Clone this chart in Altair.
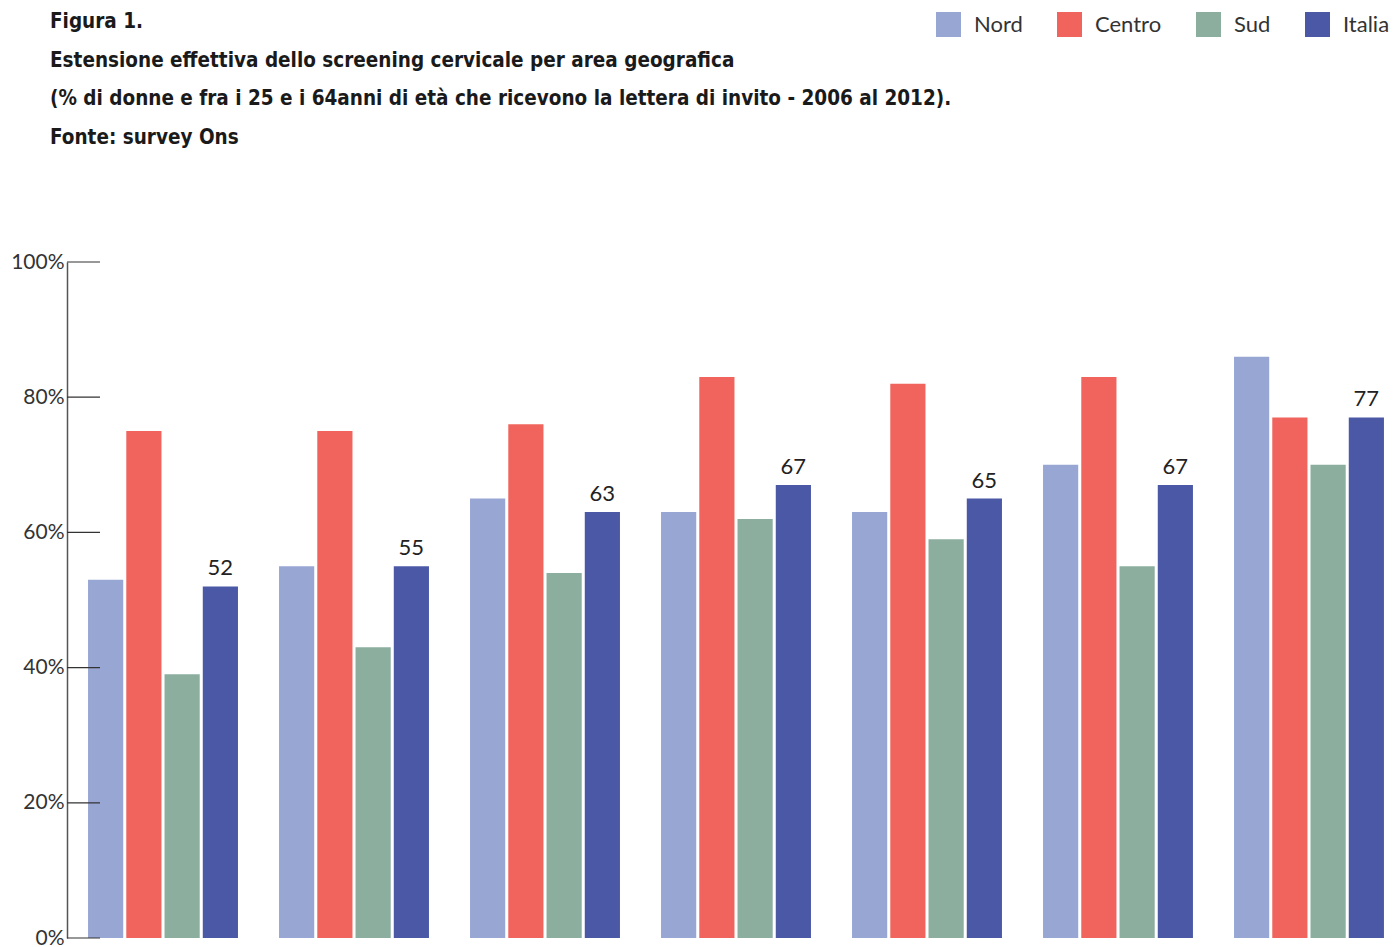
import altair as alt
import pandas as pd

# Survey years and geographic areas
years = ["2006", "2007", "2008", "2009", "2010", "2011", "2012"]
areas = ["Nord", "Centro", "Sud", "Italia"]

# % of women aged 25-64 receiving the invitation letter
nord = [53, 55, 65, 63, 63, 70, 86]
centro = [75, 75, 76, 83, 82, 83, 77]
sud = [39, 43, 54, 62, 59, 55, 70]
italia = [52, 55, 63, 67, 65, 67, 77]

colors = ["#98A6D4", "#F0645D", "#8CAE9F", "#4B58A6"]
y_ticks = [0, 20, 40, 60, 80, 100]

series = {"Nord": nord, "Centro": centro, "Sud": sud, "Italia": italia}
rows = []
for area in areas:
    for yr, v in zip(years, series[area]):
        rows.append({"anno": yr, "area": area, "valore": v})
df = pd.DataFrame(rows)
ticks_df = pd.DataFrame({"t": y_ticks})

FONT = "Lato"
TITLE_FONT = "DejaVu Sans Condensed"

x_enc = alt.X(
    "anno:N",
    sort=years,
    axis=None,
    scale=alt.Scale(paddingInner=0.215, paddingOuter=0.0866, align=0.636),
)
xoff_enc = alt.XOffset(
    "area:N",
    sort=areas,
    scale=alt.Scale(domain=areas, paddingInner=0.08, paddingOuter=0),
)
y_scale = alt.Scale(domain=[0, 100], nice=False)

bars = alt.Chart(df).mark_bar(cornerRadius=0).encode(
    x=x_enc,
    xOffset=xoff_enc,
    y=alt.Y(
        "valore:Q",
        scale=y_scale,
        axis=alt.Axis(
            values=y_ticks,
            labelExpr="datum.value + '%'",
            ticks=False,
            grid=False,
            title=None,
            domainColor="#555555",
            domainWidth=1.5,
            labelFont=FONT,
            labelFontSize=21,
            labelColor="#333333",
            labelPadding=3,
        ),
    ),
    color=alt.Color(
        "area:N",
        sort=areas,
        scale=alt.Scale(domain=areas, range=colors),
        legend=alt.Legend(
            orient="none",
            legendX=869,
            legendY=-250,
            direction="horizontal",
            title=None,
            symbolType="square",
            symbolSize=625,
            symbolStrokeWidth=0,
            symbolOpacity=1,
            labelFont=FONT,
            labelFontSize=22,
            labelColor="#333333",
            labelOffset=13,
            columnPadding=34,
        ),
    ),
)

labels = alt.Chart(df).transform_filter(
    alt.datum.area == "Italia"
).mark_text(
    font=FONT, fontSize=22, color="#222222", baseline="alphabetic", dy=-11
).encode(
    x=x_enc,
    xOffset=xoff_enc,
    y=alt.Y("valore:Q", scale=y_scale),
    text=alt.Text("valore:Q"),
)

# Tick marks drawn inward from the y axis
tick_rules = alt.Chart(ticks_df).mark_rule(color="#333333", strokeWidth=1.2).encode(
    y=alt.Y("t:Q", scale=y_scale),
    x=alt.value(0),
    x2=alt.value(33),
)

chart = alt.layer(bars, labels, tick_rules).properties(
    width=1329,
    height=676,
    autosize=alt.AutoSizeParams(type="none"),
    padding={"left": 67, "top": 262, "right": 0, "bottom": 9},
    title=alt.TitleParams(
        text=[
            "Figura 1.",
            "Estensione effettiva dello screening cervicale per area geografica",
            " (% di donne e fra i 25  e i 64anni di età  che ricevono la lettera di invito - 2006 al 2012).",
            "Fonte: survey Ons",
        ],
        anchor="start",
        frame="group",
        dx=-17,
        offset=100,
        dy=236,
        font=TITLE_FONT,
        fontSize=20.5,
        fontWeight="bold",
        color="#1a1a1a",
        lineHeight=38.5,
    ),
).configure_view(stroke=None)

chart.save("out.html", embed_options={"renderer": "svg", "actions": False})
